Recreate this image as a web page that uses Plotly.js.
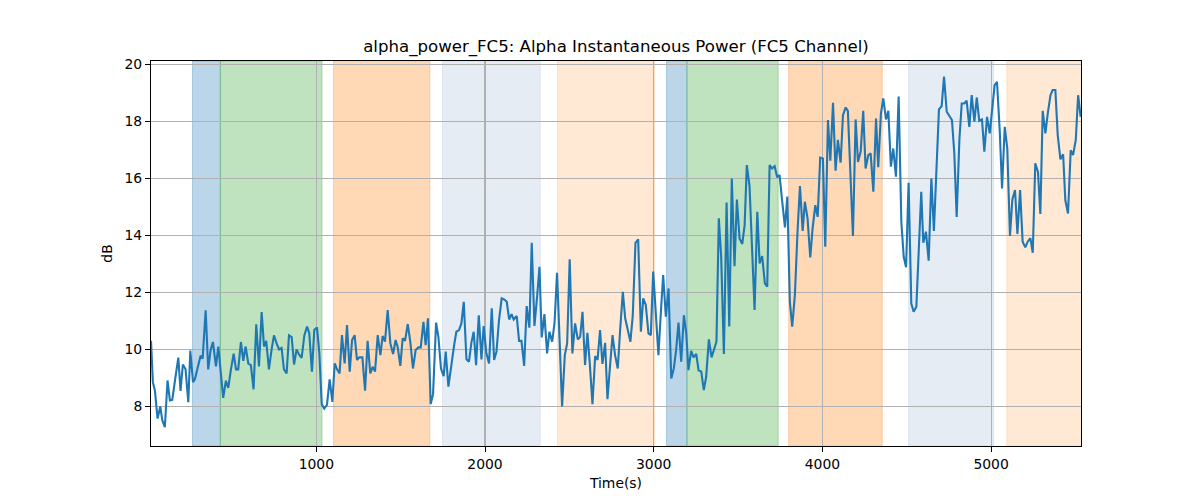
<!DOCTYPE html>
<html>
<head>
<meta charset="utf-8">
<script src="https://cdn.plot.ly/plotly-3.0.1.min.js"></script>
<style>
  html, body { margin: 0; padding: 0; background: #fff; }
  #chart { width: 1200px; height: 500px; }
</style>
</head>
<body>
<div id="chart"></div>
<script>
// time stamps (s) and FC5 alpha power (dB)
var times = [
    20, 31, 43, 59, 75, 87, 102, 118, 132, 146, 162, 182, 195, 209, 225, 241, 253, 269, 280, 300,
    314, 326, 344, 359, 373, 387, 405, 419, 433, 448, 464, 478, 494, 510, 524, 537, 553, 567, 581, 597,
    612, 628, 644, 660, 676, 690, 703, 719, 735, 749, 765, 779, 794, 808, 824, 838, 854, 868, 883, 897,
    913, 929, 945, 958, 974, 988, 1004, 1018, 1032, 1047, 1063, 1079, 1095, 1109, 1123, 1138, 1152, 1168, 1182, 1198,
    1212, 1227, 1241, 1255, 1273, 1289, 1304, 1320, 1334, 1348, 1364, 1380, 1393, 1407, 1423, 1439, 1455, 1470, 1482, 1498,
    1512, 1526, 1542, 1557, 1573, 1589, 1605, 1619, 1635, 1648, 1662, 1678, 1692, 1710, 1724, 1739, 1755, 1767, 1783, 1799,
    1817, 1830, 1846, 1860, 1874, 1890, 1905, 1919, 1933, 1947, 1963, 1979, 1992, 2008, 2024, 2040, 2054, 2068, 2083, 2099,
    2115, 2129, 2143, 2157, 2170, 2188, 2202, 2216, 2232, 2247, 2263, 2277, 2293, 2309, 2323, 2336, 2352, 2368, 2382, 2398,
    2412, 2427, 2443, 2457, 2473, 2487, 2502, 2518, 2534, 2550, 2564, 2578, 2593, 2607, 2621, 2637, 2653, 2667, 2682, 2696,
    2712, 2726, 2740, 2756, 2771, 2787, 2801, 2817, 2831, 2847, 2862, 2876, 2892, 2908, 2924, 2938, 2953, 2969, 2983, 2997,
    3013, 3028, 3042, 3056, 3072, 3088, 3104, 3119, 3133, 3147, 3163, 3179, 3193, 3206, 3222, 3236, 3252, 3266, 3282, 3297,
    3311, 3327, 3343, 3357, 3372, 3386, 3400, 3416, 3432, 3448, 3463, 3479, 3493, 3509, 3525, 3539, 3552, 3568, 3582, 3598,
    3614, 3628, 3643, 3659, 3673, 3687, 3701, 3717, 3732, 3746, 3762, 3778, 3792, 3807, 3821, 3837, 3853, 3867, 3883, 3896,
    3912, 3928, 3942, 3958, 3972, 3987, 4003, 4017, 4033, 4047, 4063, 4078, 4092, 4108, 4122, 4138, 4151, 4167, 4181, 4197,
    4211, 4227, 4242, 4256, 4272, 4286, 4302, 4318, 4331, 4347, 4361, 4377, 4391, 4406, 4420, 4436, 4452, 4468, 4482, 4496,
    4511, 4527, 4541, 4557, 4571, 4586, 4598, 4614, 4630, 4646, 4661, 4675, 4691, 4707, 4721, 4737, 4752, 4768, 4782, 4796,
    4812, 4826, 4841, 4855, 4871, 4885, 4901, 4915, 4930, 4946, 4960, 4976, 4992, 5005, 5021, 5035, 5051, 5065, 5081, 5096,
    5112, 5126, 5142, 5156, 5172, 5187, 5203, 5217, 5233, 5247, 5262, 5278, 5292, 5306, 5322, 5336, 5352, 5365, 5381, 5395,
    5411, 5427, 5440, 5456, 5472, 5486, 5502, 5516, 5531
];

var power = [
    10.3, 8.85, 8.56, 7.57, 8.0, 7.51, 7.27, 8.91, 8.21, 8.23, 8.9, 9.71, 8.54, 9.47, 9.3, 8.15, 9.96, 8.85, 8.95, 9.5,
    9.78, 9.67, 11.37, 9.3, 9.96, 10.26, 9.4, 10.1, 9.15, 8.3, 8.9, 8.65, 9.3, 9.85, 9.3, 9.3, 10.26, 9.6, 10.1, 9.5,
    9.45, 8.6, 10.88, 9.4, 11.31, 10.1, 10.3, 9.3, 10.0, 10.49, 10.2, 10.0, 10.05, 9.3, 9.16, 10.49, 10.43, 9.47, 10.0, 9.82,
    9.7, 10.49, 10.8, 10.58, 9.22, 10.68, 10.77, 9.86, 8.08, 7.92, 8.05, 8.95, 8.16, 9.51, 9.3, 9.16, 10.5, 9.51, 10.85, 9.22,
    10.33, 10.5, 9.63, 9.72, 9.72, 8.55, 10.3, 9.16, 9.39, 9.22, 10.5, 9.8, 10.47, 10.27, 11.38, 10.21, 9.84, 10.33, 10.09, 9.42,
    10.39, 10.3, 10.89, 10.27, 9.33, 9.98, 10.07, 10.07, 10.97, 10.15, 11.09, 8.08, 8.43, 10.94, 10.42, 9.33, 9.06, 9.92, 8.69, 9.45,
    10.15, 10.62, 10.68, 10.91, 11.67, 9.65, 9.57, 10.23, 10.62, 9.45, 11.2, 9.65, 10.82, 9.86, 9.51, 11.44, 9.63, 9.92, 11.03, 11.79,
    11.75, 11.67, 11.05, 11.24, 11.05, 11.17, 10.3, 10.3, 9.42, 11.52, 10.76, 13.74, 10.82, 11.87, 12.9, 10.42, 11.24, 9.86, 10.62, 10.27,
    10.91, 12.69, 9.8, 8.0, 9.8, 10.21, 13.16, 9.86, 10.91, 10.35, 10.44, 11.32, 9.45, 10.58, 9.51, 8.08, 9.77, 9.63, 10.68, 9.49,
    10.23, 8.25, 9.33, 10.5, 9.8, 9.33, 10.68, 12.02, 11.09, 10.62, 10.27, 11.2, 13.74, 13.86, 10.62, 11.79, 11.56, 10.56, 10.5, 12.73,
    11.2, 9.8, 11.26, 12.61, 11.15, 12.14, 8.98, 9.33, 9.98, 10.94, 9.57, 11.2, 10.56, 9.27, 9.95, 9.72, 9.84, 9.27, 9.22, 8.57,
    9.04, 10.35, 9.72, 9.98, 10.27, 14.6, 13.25, 9.84, 15.15, 10.8, 16.0, 12.92, 15.26, 13.89, 13.7, 14.36, 16.47, 15.73, 13.49, 11.38,
    14.83, 13.02, 13.27, 12.32, 12.2, 16.47, 16.35, 16.43, 16.04, 16.12, 15.18, 14.28, 15.36, 11.67, 10.8, 11.91, 14.19, 15.73, 14.16, 15.18,
    14.6, 13.23, 14.25, 15.06, 14.65, 16.73, 16.7, 13.6, 18.05, 16.62, 18.65, 16.27, 17.35, 16.55, 18.22, 18.49, 18.37, 16.29, 13.98, 18.07,
    16.58, 16.94, 18.37, 16.35, 16.82, 16.88, 15.53, 18.1, 16.39, 18.28, 18.81, 18.07, 18.37, 16.41, 17.05, 16.06, 18.87, 14.48, 13.25, 12.88,
    15.85, 11.61, 11.32, 11.5, 13.37, 15.53, 13.74, 14.13, 13.11, 16.0, 14.16, 16.18, 18.42, 18.54, 19.57, 18.34, 18.22, 18.05, 16.88, 14.65,
    17.35, 18.63, 18.63, 18.73, 17.81, 18.92, 17.99, 18.84, 18.02, 18.07, 16.94, 18.16, 17.58, 18.28, 19.27, 19.39, 17.7, 15.65, 17.81, 17.05,
    13.98, 15.26, 15.59, 14.05, 15.59, 13.78, 13.58, 13.78, 13.9, 13.39, 16.53, 16.23, 14.75, 18.37, 17.58, 18.28, 18.92, 19.1, 19.1, 17.52,
    16.67, 16.85, 15.24, 14.77, 16.99, 16.82, 17.35, 18.92, 18.16
];

// shaded task phases
var phaseStart = [266, 431, 1102, 1748, 2429, 3076, 3197, 3800, 4511, 5093];
var phaseEnd   = [431, 1034, 1673, 2327, 3005, 3197, 3738, 4355, 5015, 5540];
var phaseKind  = ['blue', 'green', 'orange', 'lightblue', 'lightorange',
                  'blue', 'green', 'orange', 'lightblue', 'lightorange'];

var kindColor = {
    blue: 'rgba(31,119,180,0.3)',
    green: 'rgba(44,160,44,0.3)',
    orange: 'rgba(255,127,14,0.3)',
    lightblue: 'rgba(176,196,222,0.33)',
    lightorange: 'rgba(255,170,90,0.26)'
};

var shapes = [];
for (var i = 0; i < phaseStart.length; i++) {
    shapes.push({
        type: 'rect',
        xref: 'x',
        yref: 'paper',
        x0: phaseStart[i],
        x1: phaseEnd[i],
        y0: 0,
        y1: 1,
        fillcolor: kindColor[phaseKind[i]],
        line: {color: kindColor[phaseKind[i]], width: 1},
        layer: 'below'
    });
}

var data = [
    {
        x: times,
        y: power,
        type: 'scatter',
        mode: 'lines',
        line: {color: '#1f77b4', width: 2.1},
        hoverinfo: 'x+y'
    }
];

var axisFont = {family: 'DejaVu Sans', size: 13.9, color: '#000'};

var layout = {
    width: 1200,
    height: 500,
    margin: {l: 151, r: 119, t: 61, b: 54},
    paper_bgcolor: '#fff',
    plot_bgcolor: '#fff',
    showlegend: false,
    font: axisFont,
    title: {
        text: 'alpha_power_FC5: Alpha Instantaneous Power (FC5 Channel)',
        font: {family: 'DejaVu Sans', size: 16.6, color: '#000'},
        xref: 'paper',
        x: 0.5,
        xanchor: 'center',
        yref: 'container',
        y: 0.907,
        yanchor: 'middle'
    },
    xaxis: {
        range: [20, 5533],
        tickvals: [1000, 2000, 3000, 4000, 5000],
        ticktext: ['1000', '2000', '3000', '4000', '5000'],
        ticks: 'outside',
        ticklen: 5,
        tickwidth: 1,
        tickcolor: '#000',
        tickfont: axisFont,
        showgrid: true,
        gridcolor: '#b0b0b0',
        gridwidth: 1.1,
        zeroline: false,
        showline: true,
        linecolor: '#000',
        linewidth: 1,
        mirror: true,
        title: {text: 'Time(s)', font: axisFont, standoff: 7}
    },
    yaxis: {
        range: [6.61, 20.12],
        tickvals: [8, 10, 12, 14, 16, 18, 20],
        ticks: 'outside',
        ticklen: 5,
        tickwidth: 1,
        tickcolor: '#000',
        tickfont: axisFont,
        showgrid: true,
        gridcolor: '#b0b0b0',
        gridwidth: 1.1,
        zeroline: false,
        showline: true,
        linecolor: '#000',
        linewidth: 1,
        mirror: true,
        title: {text: 'dB', font: axisFont, standoff: 8}
    },
    shapes: shapes
};

Plotly.newPlot('chart', data, layout, {displayModeBar: false, staticPlot: true});
</script>
</body>
</html>
